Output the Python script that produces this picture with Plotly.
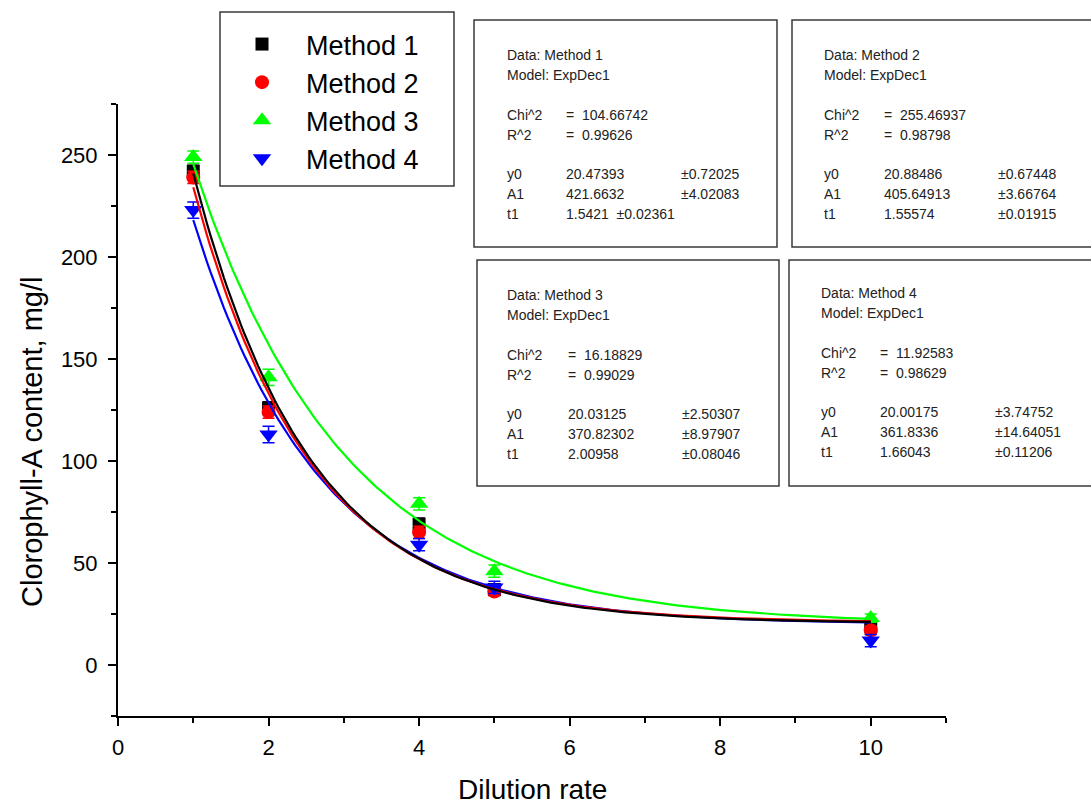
import numpy as np
import plotly.graph_objects as go

# Measured chlorophyll-A content for each dilution rate
dilution = [1, 2, 4, 5, 10]
method_names = ["Method 1", "Method 2", "Method 3", "Method 4"]
method1 = [242, 126, 69, 37, 19]
method2 = [239, 124, 65, 36, 17]
method3 = [249, 141, 79, 46, 23]
method4 = [223, 113, 59, 38, 12]
err1 = [3, 3, 3, 2, 2]
err2 = [3, 3, 3, 2, 2]
err3 = [3, 4, 3, 3, 2]
err4 = [4, 4, 3, 3, 3]

# ExpDec1 fit results: y = y0 + A1 * exp(-x / t1)
fit_chi2 = ["104.66742", "255.46937", "16.18829", "11.92583"]
fit_r2 = ["0.99626", "0.98798", "0.99029", "0.98629"]
fit_y0 = [20.47393, 20.88486, 20.03125, 20.00175]
fit_y0_err = ["0.72025", "0.67448", "2.50307", "3.74752"]
fit_A1 = [421.6632, 405.64913, 370.82302, 361.8336]
fit_A1_err = ["4.02083", "3.66764", "8.97907", "14.64051"]
fit_t1 = [1.5421, 1.55574, 2.00958, 1.66043]
fit_t1_err = ["0.02361", "0.01915", "0.08046", "0.11206"]

values = [method1, method2, method3, method4]
errors = [err1, err2, err3, err4]
colors = ["#000000", "#ff0000", "#00ff00", "#0000ff"]
symbols = ["square", "circle", "triangle-up", "triangle-down"]
sizes = [13, 14, 16, 16]

W, H = 1091, 810
ML, MR, MT, MB = 118, 145, 104, 94
PW, PH = W - ML - MR, H - MT - MB
FONT = "Liberation Sans, Arial"


def px(x):
    return (x - ML) / PW


def py(y):
    return (H - MB - y) / PH


fig = go.Figure()

for name, vals, errs, col, sym, sz in zip(method_names, values, errors, colors, symbols, sizes):
    fig.add_trace(go.Scatter(
        x=dilution, y=vals, mode="markers", name=name,
        marker=dict(symbol=sym, color=col, size=sz, line=dict(width=0)),
        error_y=dict(type="data", array=errs, visible=True, color=col, thickness=1.5, width=6),
    ))

xs = np.linspace(1, 10, 200)
for i in [3, 1, 0, 2]:
    ys = fit_y0[i] + fit_A1[i] * np.exp(-xs / fit_t1[i])
    fig.add_trace(go.Scatter(
        x=xs, y=ys, mode="lines", showlegend=False, hoverinfo="skip",
        line=dict(color=colors[i], width=2.2),
    ))

# Fit report boxes: (left, top, right, bottom, text-left, value col, +- col, first row y)
boxes = [
    (474, 20, 777, 247, 505, 564, 679, 55),
    (792, 20, 1096, 247, 822, 882, 996, 55),
    (477, 260, 779, 486, 505, 566, 680, 295),
    (789, 260, 1096, 486, 819, 878, 993, 293),
]
shapes = []
annotations = []
font_box = dict(family=FONT, size=14, color="#222222")


def note(x, y, text):
    annotations.append(dict(
        x=px(x), y=py(y), xref="paper", yref="paper", text=text,
        showarrow=False, xanchor="left", yanchor="middle", font=font_box,
    ))


for i, (l, t, r, b, cx, vx, ex, ry) in enumerate(boxes):
    shapes.append(dict(type="rect", xref="paper", yref="paper",
                       x0=px(l), x1=px(r), y0=py(b), y1=py(t),
                       line=dict(color="#3a3a3a", width=1.5), fillcolor="white", layer="below"))
    step = 19.9
    note(cx, ry, "Data: " + method_names[i])
    note(cx, ry + step, "Model: ExpDec1")
    note(cx, ry + 3 * step, "Chi^2")
    note(vx, ry + 3 * step, "=  " + fit_chi2[i])
    note(cx, ry + 4 * step, "R^2")
    note(vx, ry + 4 * step, "=  " + fit_r2[i])
    note(cx, ry + 6 * step, "y0")
    note(vx, ry + 6 * step, f"{fit_y0[i]:.5f}")
    note(ex, ry + 6 * step, "±" + fit_y0_err[i])
    note(cx, ry + 7 * step, "A1")
    note(vx, ry + 7 * step, str(fit_A1[i]))
    note(ex, ry + 7 * step, "±" + fit_A1_err[i])
    note(cx, ry + 8 * step, "t1")
    if i == 0:
        note(vx, ry + 8 * step, str(fit_t1[i]) + "  ±" + fit_t1_err[i])
    else:
        note(vx, ry + 8 * step, str(fit_t1[i]))
        note(ex, ry + 8 * step, "±" + fit_t1_err[i])

# Legend frame
shapes.append(dict(type="rect", xref="paper", yref="paper",
                   x0=px(220), x1=px(454), y0=py(186), y1=py(12),
                   line=dict(color="#3a3a3a", width=1.5), fillcolor="white", layer="below"))

# Axis titles
annotations.append(dict(x=px(532), y=py(789), xref="paper", yref="paper",
                        text="Dilution rate", showarrow=False,
                        xanchor="center", yanchor="middle",
                        font=dict(family=FONT, size=28, color="#000000")))
annotations.append(dict(x=px(32), y=py(442), xref="paper", yref="paper",
                        text="Clorophyll-A content, mg/l", showarrow=False, textangle=-90,
                        xanchor="center", yanchor="middle",
                        font=dict(family=FONT, size=29, color="#000000")))

axis_font = dict(family=FONT, size=22, color="#000000")

fig.update_layout(
    width=W, height=H,
    margin=dict(l=ML, r=MR, t=MT, b=MB),
    paper_bgcolor="white", plot_bgcolor="white",
    shapes=shapes, annotations=annotations,
    legend=dict(
        x=px(218), y=py(20), xanchor="left", yanchor="top",
        borderwidth=0, bgcolor="rgba(0,0,0,0)",
        font=dict(family=FONT, size=27, color="#000000"),
        itemwidth=78, tracegroupgap=0,
    ),
    xaxis=dict(
        range=[0, 11], tickmode="linear", tick0=0, dtick=2,
        showline=True, linecolor="#000000", linewidth=2, mirror=False,
        ticks="outside", ticklen=8, tickwidth=2, tickcolor="#000000",
        minor=dict(dtick=1, ticks="outside", ticklen=5, tickwidth=2, tickcolor="#000000"),
        showgrid=False, zeroline=False, tickfont=axis_font, ticklabelstandoff=3,
    ),
    yaxis=dict(
        range=[-25, 275], tickmode="linear", tick0=0, dtick=50,
        showline=True, linecolor="#000000", linewidth=2, mirror=False,
        ticks="outside", ticklen=8, tickwidth=2, tickcolor="#000000",
        minor=dict(dtick=25, ticks="outside", ticklen=5, tickwidth=2, tickcolor="#000000"),
        showgrid=False, zeroline=False, tickfont=axis_font, ticklabelstandoff=6,
    ),
)

fig.write_html("out.html")
